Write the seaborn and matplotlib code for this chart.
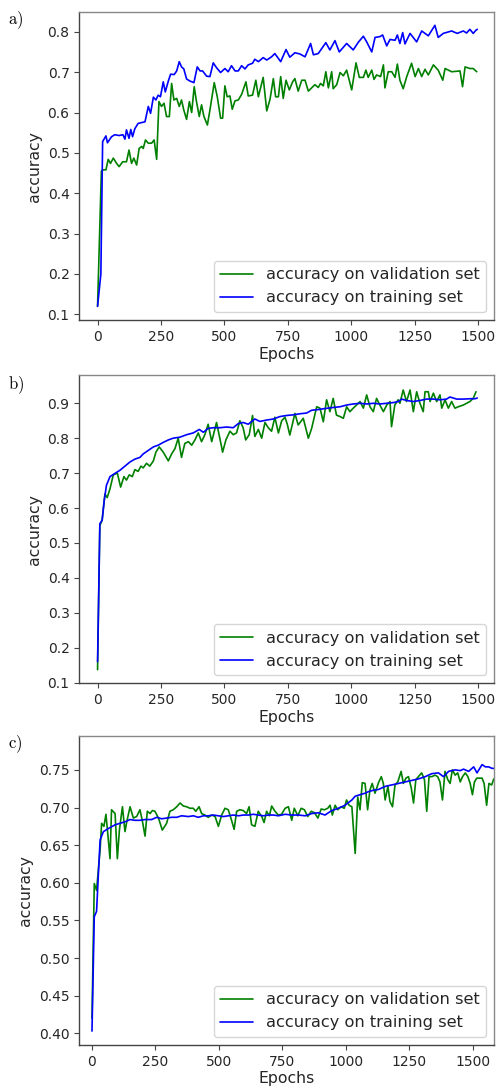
import numpy as np
import pandas as pd
import matplotlib
matplotlib.use("Agg")
import matplotlib.pyplot as plt
import seaborn as sns

# ---------------- data ----------------
# Panel a
a_train_epochs = [0, 13, 20, 33, 39, 55, 68, 85, 100, 108, 114, 124, 131, 138, 147, 160, 187, 200, 209, 220,
                  230, 239, 248, 259, 267, 279, 288, 302, 312, 322, 331, 340, 351, 364, 380, 393, 404, 414, 430, 443,
                  456, 469, 485, 502, 515, 528, 542, 555, 568, 581, 594, 611, 620, 634, 653, 667, 686, 699, 722, 743,
                  758, 778, 798, 818, 840, 851, 870, 900, 916, 936, 953, 982, 1008, 1028, 1048, 1061, 1081, 1094, 1113, 1124,
                  1140, 1153, 1173, 1182, 1192, 1203, 1212, 1232, 1258, 1278, 1304, 1330, 1343, 1363, 1396, 1418, 1442, 1455, 1468, 1481,
                  1492, 1497]
a_train_acc = [0.12, 0.20, 0.528, 0.542, 0.525, 0.540, 0.545, 0.543, 0.545, 0.534, 0.557, 0.536, 0.558, 0.540, 0.560, 0.573, 0.577, 0.615, 0.598, 0.638,
               0.631, 0.643, 0.639, 0.676, 0.651, 0.678, 0.695, 0.694, 0.703, 0.726, 0.713, 0.708, 0.683, 0.678, 0.674, 0.713, 0.703, 0.703, 0.690, 0.689,
               0.723, 0.711, 0.699, 0.709, 0.701, 0.716, 0.703, 0.703, 0.716, 0.708, 0.718, 0.722, 0.732, 0.726, 0.736, 0.730, 0.738, 0.746, 0.726, 0.756,
               0.737, 0.748, 0.745, 0.738, 0.771, 0.743, 0.746, 0.773, 0.755, 0.778, 0.750, 0.771, 0.755, 0.774, 0.789, 0.775, 0.750, 0.786, 0.788, 0.792,
               0.765, 0.781, 0.779, 0.792, 0.771, 0.798, 0.770, 0.796, 0.775, 0.802, 0.790, 0.816, 0.786, 0.796, 0.802, 0.796, 0.802, 0.797, 0.806, 0.796,
               0.804, 0.806]
a_val_epochs = [0, 15, 22, 33, 42, 51, 62, 75, 85, 99, 114, 124, 134, 143, 154, 164, 174, 180, 189, 200,
                213, 223, 233, 242, 252, 262, 272, 283, 292, 301, 312, 322, 331, 340, 351, 362, 371, 381, 390, 401,
                410, 419, 433, 443, 460, 472, 485, 493, 502, 511, 522, 531, 542, 555, 568, 585, 594, 611, 624, 634,
                653, 667, 680, 693, 702, 713, 722, 732, 743, 756, 769, 778, 791, 805, 818, 831, 844, 857, 870, 879,
                890, 900, 910, 923, 929, 943, 956, 969, 982, 1002, 1019, 1032, 1048, 1058, 1067, 1081, 1090, 1100, 1116, 1127,
                1133, 1146, 1160, 1173, 1182, 1192, 1205, 1219, 1238, 1252, 1265, 1278, 1291, 1304, 1324, 1343, 1361, 1370, 1396, 1429,
                1439, 1449, 1468, 1481, 1495]
a_val_acc = [0.12, 0.455, 0.458, 0.458, 0.484, 0.474, 0.487, 0.474, 0.466, 0.478, 0.478, 0.507, 0.474, 0.487, 0.470, 0.511, 0.516, 0.511, 0.532, 0.524,
             0.524, 0.532, 0.484, 0.627, 0.615, 0.623, 0.590, 0.590, 0.672, 0.631, 0.635, 0.615, 0.631, 0.606, 0.583, 0.627, 0.600, 0.664, 0.627, 0.590,
             0.619, 0.591, 0.569, 0.606, 0.674, 0.639, 0.586, 0.586, 0.666, 0.639, 0.641, 0.608, 0.629, 0.631, 0.645, 0.676, 0.641, 0.643, 0.680, 0.639,
             0.687, 0.604, 0.633, 0.684, 0.639, 0.639, 0.689, 0.635, 0.680, 0.656, 0.676, 0.684, 0.653, 0.680, 0.680, 0.653, 0.661, 0.669, 0.662, 0.672,
             0.666, 0.701, 0.661, 0.701, 0.659, 0.669, 0.699, 0.691, 0.705, 0.656, 0.723, 0.687, 0.687, 0.705, 0.687, 0.705, 0.682, 0.693, 0.689, 0.718,
             0.661, 0.701, 0.701, 0.687, 0.720, 0.680, 0.659, 0.689, 0.722, 0.689, 0.709, 0.689, 0.707, 0.693, 0.718, 0.705, 0.680, 0.709, 0.701, 0.703,
             0.664, 0.713, 0.709, 0.709, 0.701]

# Panel b
b_train_epochs = [0, 9, 18, 26, 35, 49, 68, 88, 108, 128, 147, 167, 180, 200, 220, 239, 259, 279, 298, 325,
                  351, 377, 401, 417, 436, 456, 482, 509, 535, 555, 574, 594, 620, 640, 667, 693, 719, 745, 772, 798,
                  824, 844, 870, 897, 929, 956, 982, 1008, 1035, 1061, 1087, 1113, 1140, 1166, 1186, 1199, 1219, 1245, 1271, 1297,
                  1324, 1350, 1376, 1389, 1416, 1442, 1468, 1488, 1497]
b_train_acc = [0.16, 0.555, 0.565, 0.62, 0.665, 0.69, 0.699, 0.708, 0.72, 0.732, 0.74, 0.745, 0.755, 0.765, 0.775, 0.78, 0.788, 0.795, 0.80, 0.803,
               0.81, 0.815, 0.825, 0.817, 0.828, 0.83, 0.83, 0.832, 0.83, 0.842, 0.845, 0.84, 0.855, 0.848, 0.852, 0.855, 0.862, 0.865, 0.867, 0.87,
               0.872, 0.88, 0.882, 0.885, 0.888, 0.89, 0.895, 0.898, 0.90, 0.898, 0.90, 0.898, 0.90, 0.902, 0.905, 0.912, 0.908, 0.905, 0.908, 0.912,
               0.912, 0.91, 0.912, 0.918, 0.912, 0.912, 0.913, 0.913, 0.915]
b_val_epochs = [0, 9, 18, 29, 38, 49, 62, 78, 91, 104, 114, 125, 137, 147, 160, 171, 180, 193, 206, 220,
                230, 243, 259, 279, 292, 305, 318, 331, 344, 358, 371, 384, 397, 410, 423, 436, 450, 469, 482, 493,
                506, 522, 535, 548, 561, 574, 584, 598, 611, 620, 634, 647, 660, 673, 686, 699, 713, 726, 739, 748,
                758, 778, 791, 811, 831, 844, 864, 877, 890, 903, 916, 929, 942, 956, 969, 982, 995, 1008, 1021, 1035,
                1048, 1061, 1074, 1087, 1100, 1113, 1127, 1140, 1153, 1159, 1172, 1185, 1192, 1205, 1218, 1232, 1245, 1258, 1271, 1284,
                1291, 1304, 1311, 1324, 1337, 1350, 1357, 1370, 1383, 1396, 1409, 1422, 1442, 1468, 1481, 1492]
b_val_acc = [0.137, 0.55, 0.565, 0.64, 0.63, 0.655, 0.695, 0.70, 0.66, 0.69, 0.68, 0.695, 0.69, 0.71, 0.705, 0.72, 0.715, 0.728, 0.72, 0.735,
             0.76, 0.775, 0.76, 0.735, 0.755, 0.77, 0.80, 0.745, 0.785, 0.79, 0.78, 0.795, 0.815, 0.79, 0.81, 0.84, 0.79, 0.845, 0.80, 0.76,
             0.795, 0.82, 0.81, 0.815, 0.85, 0.83, 0.795, 0.81, 0.865, 0.805, 0.825, 0.80, 0.845, 0.83, 0.82, 0.86, 0.815, 0.85, 0.86, 0.84,
             0.809, 0.871, 0.838, 0.857, 0.80, 0.828, 0.89, 0.886, 0.847, 0.91, 0.876, 0.914, 0.866, 0.862, 0.857, 0.89, 0.876, 0.886, 0.895, 0.905,
             0.886, 0.924, 0.89, 0.876, 0.914, 0.895, 0.876, 0.895, 0.905, 0.833, 0.895, 0.91, 0.90, 0.938, 0.905, 0.938, 0.876, 0.933, 0.90, 0.876,
             0.933, 0.933, 0.905, 0.929, 0.905, 0.924, 0.886, 0.91, 0.886, 0.905, 0.886, 0.89, 0.895, 0.905, 0.914, 0.933]

# Panel c
c_train_epochs = [0, 9, 18, 25, 32, 45, 64, 91, 110, 130, 150, 169, 189, 209, 235, 255, 275, 294, 314, 334,
                  353, 380, 399, 419, 439, 458, 478, 498, 518, 537, 557, 577, 596, 616, 636, 655, 675, 695, 715, 734,
                  761, 787, 813, 840, 866, 892, 918, 945, 971, 997, 1024, 1037, 1056, 1076, 1089, 1109, 1129, 1155, 1181, 1208,
                  1234, 1260, 1286, 1313, 1339, 1365, 1385, 1405, 1431, 1451, 1464, 1484, 1504, 1517, 1537, 1550, 1563, 1576, 1589]
c_train_acc = [0.403, 0.555, 0.562, 0.61, 0.657, 0.668, 0.672, 0.677, 0.679, 0.681, 0.684, 0.683, 0.683, 0.684, 0.684, 0.687, 0.685, 0.686, 0.687, 0.687,
               0.689, 0.688, 0.689, 0.687, 0.689, 0.689, 0.690, 0.689, 0.688, 0.689, 0.690, 0.689, 0.690, 0.690, 0.691, 0.690, 0.689, 0.690, 0.690, 0.689,
               0.691, 0.690, 0.690, 0.689, 0.692, 0.693, 0.690, 0.696, 0.699, 0.703, 0.710, 0.715, 0.717, 0.719, 0.721, 0.723, 0.724, 0.728, 0.730, 0.732,
               0.734, 0.736, 0.738, 0.741, 0.745, 0.746, 0.741, 0.748, 0.750, 0.749, 0.751, 0.748, 0.754, 0.746, 0.757, 0.754, 0.754, 0.752, 0.752]
c_val_epochs = [0, 9, 18, 32, 38, 47, 55, 62, 71, 77, 91, 100, 108, 120, 130, 137, 150, 163, 176, 189,
                198, 209, 218, 229, 238, 248, 262, 277, 294, 307, 320, 334, 347, 360, 373, 386, 399, 409, 422, 432,
                445, 458, 472, 485, 498, 511, 524, 537, 550, 560, 570, 583, 596, 609, 619, 629, 642, 655, 669, 678,
                688, 699, 708, 721, 734, 747, 761, 774, 787, 797, 811, 824, 837, 850, 864, 877, 890, 903, 916, 929,
                938, 947, 958, 968, 981, 994, 1003, 1013, 1024, 1037, 1047, 1056, 1065, 1076, 1086, 1095, 1104, 1115, 1129, 1140,
                1148, 1155, 1166, 1174, 1184, 1194, 1205, 1218, 1227, 1237, 1247, 1258, 1267, 1276, 1286, 1299, 1310, 1319, 1328, 1339,
                1352, 1362, 1371, 1381, 1391, 1402, 1411, 1420, 1431, 1441, 1451, 1460, 1471, 1481, 1490, 1499, 1507, 1516, 1526, 1537,
                1545, 1555, 1564, 1575, 1582, 1591]
c_val_acc = [0.42, 0.599, 0.59, 0.644, 0.679, 0.675, 0.691, 0.666, 0.632, 0.697, 0.692, 0.632, 0.670, 0.701, 0.668, 0.681, 0.701, 0.686, 0.688, 0.697,
             0.683, 0.662, 0.695, 0.692, 0.696, 0.695, 0.686, 0.670, 0.679, 0.695, 0.697, 0.701, 0.706, 0.702, 0.701, 0.699, 0.699, 0.695, 0.701, 0.692,
             0.690, 0.687, 0.690, 0.688, 0.675, 0.690, 0.699, 0.697, 0.683, 0.671, 0.695, 0.697, 0.696, 0.692, 0.701, 0.677, 0.675, 0.695, 0.688, 0.680,
             0.695, 0.689, 0.702, 0.695, 0.690, 0.691, 0.699, 0.701, 0.683, 0.699, 0.689, 0.699, 0.697, 0.688, 0.695, 0.693, 0.686, 0.698, 0.697, 0.699,
             0.703, 0.690, 0.703, 0.697, 0.701, 0.699, 0.710, 0.703, 0.701, 0.639, 0.714, 0.697, 0.733, 0.732, 0.697, 0.723, 0.732, 0.719, 0.733, 0.741,
             0.732, 0.710, 0.728, 0.708, 0.701, 0.730, 0.734, 0.748, 0.732, 0.739, 0.741, 0.726, 0.706, 0.737, 0.741, 0.746, 0.737, 0.695, 0.741, 0.741,
             0.743, 0.741, 0.734, 0.710, 0.748, 0.737, 0.732, 0.750, 0.743, 0.746, 0.734, 0.741, 0.746, 0.741, 0.732, 0.717, 0.734, 0.739, 0.739, 0.739,
             0.732, 0.703, 0.732, 0.730, 0.737, 0.741]

panel_labels = ["a)", "b)", "c)"]
x_ticks = [0, 250, 500, 750, 1000, 1250, 1500]
a_yticks = [0.1, 0.2, 0.3, 0.4, 0.5, 0.6, 0.7, 0.8]
b_yticks = [0.1, 0.2, 0.3, 0.4, 0.5, 0.6, 0.7, 0.8, 0.9]
c_yticks = [0.40, 0.45, 0.50, 0.55, 0.60, 0.65, 0.70, 0.75]

# ---------------- plotting ----------------
sns.set_style("ticks")
plt.rcParams["font.family"] = ["DejaVu Sans"]
plt.rcParams["mathtext.fontset"] = "cm"

W, H = 498, 1088
fig = plt.figure(figsize=(W / 100, H / 100), dpi=100)

panels = [
    dict(val=(a_val_epochs, a_val_acc), train=(a_train_epochs, a_train_acc),
         top=12, bottom=320, xlim=(-72, 1563), ylim=(0.086, 0.849), yticks=a_yticks, fmt="{:.1f}", lab_y=19.7),
    dict(val=(b_val_epochs, b_val_acc), train=(b_train_epochs, b_train_acc),
         top=375, bottom=683.3, xlim=(-72, 1563), ylim=(0.098, 0.981), yticks=b_yticks, fmt="{:.1f}", lab_y=385.5),
    dict(val=(c_val_epochs, c_val_acc), train=(c_train_epochs, c_train_acc),
         top=736, bottom=1045, xlim=(-50, 1584), ylim=(0.3845, 0.795), yticks=c_yticks, fmt="{:.2f}", lab_y=744.5),
]

left_px, right_px = 79.3, 494.0
for lab, p in zip(panel_labels, panels):
    ax = fig.add_axes([left_px / W, 1 - p["bottom"] / H,
                       (right_px - left_px) / W, (p["bottom"] - p["top"]) / H])
    sns.lineplot(x=p["val"][0], y=p["val"][1], ax=ax, color="green", lw=1.2,
                 label="accuracy on validation set", estimator=None)
    sns.lineplot(x=p["train"][0], y=p["train"][1], ax=ax, color="blue", lw=1.2,
                 label="accuracy on training set", estimator=None)
    ax.set_xlim(*p["xlim"])
    ax.set_ylim(*p["ylim"])
    ax.set_xticks(x_ticks)
    ax.set_xticklabels([str(t) for t in x_ticks])
    ax.set_yticks(p["yticks"])
    ax.set_yticklabels([p["fmt"].format(t) for t in p["yticks"]])
    ax.set_xlabel("Epochs", fontsize=11.3, color="#262626", labelpad=2)
    ax.set_ylabel("accuracy", fontsize=11.3, color="#262626")
    ax.tick_params(labelsize=10, length=3.5, width=0.8, color="#444444", labelcolor="#262626")
    for side in ["left", "bottom"]:
        ax.spines[side].set_color("#444444")
    for side in ["top", "right"]:
        ax.spines[side].set_color("#888888")
    for s in ax.spines.values():
        s.set_linewidth(1.0)
    leg = ax.legend(loc="lower right", fontsize=11.7, frameon=True)
    leg.get_frame().set_edgecolor("#cccccc")
    fig.text(8 / W, 1 - p["lab_y"] / H, r"$\mathrm{" + lab + "}$", fontsize=12,
             ha="left", va="center", color="black")

fig.savefig("out.png", dpi=100)
